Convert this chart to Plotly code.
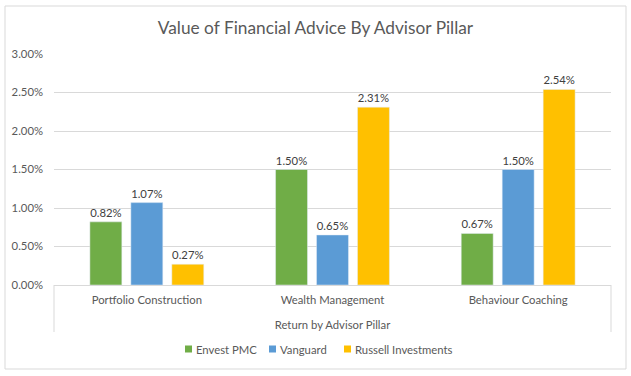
import plotly.graph_objects as go

categories = ["Portfolio Construction", "Wealth Management", "Behaviour Coaching"]
series_names = ["Envest PMC", "Vanguard", "Russell Investments"]
envest = [0.0082, 0.0150, 0.0067]
vanguard = [0.0107, 0.0065, 0.0150]
russell = [0.0027, 0.0231, 0.0254]
colors = ["#70AD47", "#5B9BD5", "#FFC000"]
y_ticks = [0, 0.005, 0.01, 0.015, 0.02, 0.025, 0.03]

FONT = "Lato, Carlito, Calibri, sans-serif"
FS = 11.3

fig = go.Figure()
for name, vals, col in zip(series_names, [envest, vanguard, russell], colors):
    fig.add_trace(go.Bar(
        x=categories, y=vals, name=name, marker_color=col,
        texttemplate="%{y:.2%}", textposition="outside",
        textfont=dict(size=FS, color="#404040", family=FONT),
        cliponaxis=False,
    ))

W, H = 631, 376
L, R, T, B = 54, 20, 54, 91
pw, ph = W - L - R, H - T - B

def px(x):
    return (x - L) / pw

def py(y):
    return (H - B - y) / ph

shapes = [
    dict(type="rect", xref="paper", yref="paper", x0=px(5), x1=px(626), y0=py(369), y1=py(6),
         line=dict(color="#D9D9D9", width=1), fillcolor="rgba(0,0,0,0)", layer="below"),
    dict(type="line", xref="paper", yref="paper", x0=0, x1=0, y0=0, y1=py(332),
         line=dict(color="#D9D9D9", width=1)),
    dict(type="line", xref="paper", yref="paper", x0=1, x1=1, y0=0, y1=py(332),
         line=dict(color="#D9D9D9", width=1)),
]

# custom compact legend (Excel style small squares)
legend_sq_x = [185, 269, 344]
annotations = []
for name, col, sx in zip(series_names, colors, legend_sq_x):
    shapes.append(dict(type="rect", xref="paper", yref="paper", x0=px(sx), x1=px(sx + 7),
                       y0=py(352.5), y1=py(345.5), line=dict(width=0), fillcolor=col))
    annotations.append(dict(text=name, xref="paper", yref="paper", x=px(sx + 9), y=py(349),
                            xanchor="left", yanchor="middle", showarrow=False,
                            font=dict(size=FS, color="#595959", family=FONT)))

fig.update_layout(
    width=W, height=H,
    margin=dict(l=L, r=R, t=T, b=B),
    paper_bgcolor="white", plot_bgcolor="white",
    font=dict(family=FONT, size=FS, color="#595959"),
    title=dict(text="Value of Financial Advice By Advisor Pillar", x=0.5, xref="container", xanchor="center",
               y=1 - 28 / H, yanchor="middle", font=dict(size=17.3, color="#595959", family=FONT)),
    barmode="group", bargap=0.338, bargroupgap=0.22,
    showlegend=False,
    shapes=shapes,
    annotations=annotations,
)
fig.update_xaxes(
    showline=True, linecolor="#D9D9D9", linewidth=1, ticks="", showgrid=False,
    tickfont=dict(size=FS, color="#595959"), ticklabelstandoff=4,
    title=dict(text="Return by Advisor Pillar", font=dict(size=FS, color="#595959"), standoff=16),
)
fig.update_yaxes(
    range=[0, 0.03], tickvals=y_ticks, tickformat=".2%", showgrid=True, gridcolor="#D9D9D9",
    gridwidth=1, zeroline=False, showline=False, ticks="", ticklabelstandoff=10,
    tickfont=dict(size=FS, color="#595959"),
)

fig.write_html("out.html", config={"displayModeBar": False},
               post_script="document.body.style.margin='0';document.body.style.padding='0';")
